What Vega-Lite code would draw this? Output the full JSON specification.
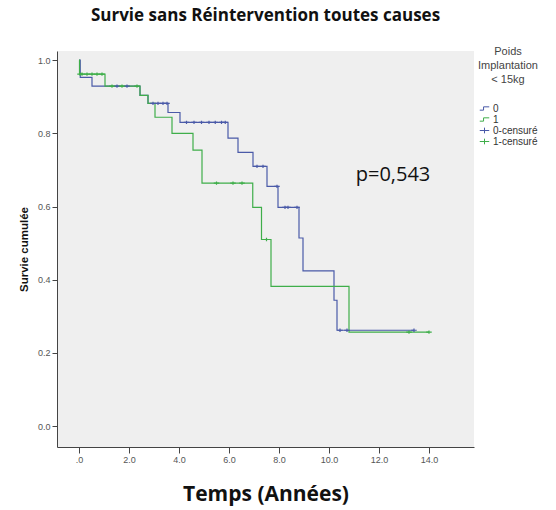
{
  "$schema": "https://vega.github.io/schema/vega-lite/v6.json",
  "width": 417,
  "height": 396,
  "autosize": "none",
  "padding": {"left": 57, "top": 51, "right": 82, "bottom": 63},
  "background": "white",
  "title": {
    "text": "Survie sans Réintervention toutes causes",
    "font": "Open Sans",
    "fontSize": 17,
    "fontWeight": "bold",
    "color": "#111",
    "anchor": "middle",
    "offset": 21
  },
  "config": {
    "view": {"fill": "#efefef", "stroke": null},
    "axis": {
      "domainColor": "#444",
      "tickColor": "#444",
      "labelFont": "Arial",
      "labelFontSize": 9,
      "labelColor": "#555",
      "grid": false,
      "titleFont": "Arial",
      "titleColor": "#111"
    },
    "legend": {
      "orient": "none",
      "legendX": 421,
      "legendY": -5,
      "titleFont": "Arial",
      "titleFontSize": 11,
      "titleFontWeight": "normal",
      "titleColor": "#444",
      "titleAnchor": "middle",
      "titleAlign": "center",
      "titleLineHeight": 14,
      "titlePadding": 18,
      "labelFont": "Arial",
      "labelFontSize": 10,
      "labelColor": "#333",
      "symbolSize": 90,
      "symbolStrokeWidth": 1,
      "rowPadding": -1,
      "labelOffset": 3
    }
  },
  "datasets": {
    "curves": [
      {"t": 0, "S": 1.0, "lg": "0"},
      {"t": 0.05, "S": 0.953, "lg": "0"},
      {"t": 0.52, "S": 0.929, "lg": "0"},
      {"t": 2.44, "S": 0.904, "lg": "0"},
      {"t": 2.76, "S": 0.882, "lg": "0"},
      {"t": 3.56, "S": 0.857, "lg": "0"},
      {"t": 4.04, "S": 0.83, "lg": "0"},
      {"t": 5.96, "S": 0.787, "lg": "0"},
      {"t": 6.36, "S": 0.748, "lg": "0"},
      {"t": 6.96, "S": 0.71, "lg": "0"},
      {"t": 7.52, "S": 0.655, "lg": "0"},
      {"t": 7.96, "S": 0.598, "lg": "0"},
      {"t": 8.8, "S": 0.514, "lg": "0"},
      {"t": 8.96, "S": 0.424, "lg": "0"},
      {"t": 10.2, "S": 0.344, "lg": "0"},
      {"t": 10.32, "S": 0.262, "lg": "0"},
      {"t": 13.4, "S": 0.262, "lg": "0"},
      {"t": 0, "S": 1.0, "lg": "1"},
      {"t": 0.02, "S": 0.962, "lg": "1"},
      {"t": 1.04, "S": 0.929, "lg": "1"},
      {"t": 2.44, "S": 0.904, "lg": "1"},
      {"t": 2.76, "S": 0.882, "lg": "1"},
      {"t": 3.04, "S": 0.844, "lg": "1"},
      {"t": 3.72, "S": 0.8, "lg": "1"},
      {"t": 4.56, "S": 0.754, "lg": "1"},
      {"t": 4.92, "S": 0.664, "lg": "1"},
      {"t": 6.95, "S": 0.598, "lg": "1"},
      {"t": 7.3, "S": 0.51, "lg": "1"},
      {"t": 7.68, "S": 0.382, "lg": "1"},
      {"t": 10.8, "S": 0.257, "lg": "1"},
      {"t": 14.0, "S": 0.257, "lg": "1"}
    ],
    "censors": [
      {"t": 1.52, "S": 0.929, "lg": "0-censuré"},
      {"t": 1.92, "S": 0.929, "lg": "0-censuré"},
      {"t": 2.96, "S": 0.882, "lg": "0-censuré"},
      {"t": 3.16, "S": 0.882, "lg": "0-censuré"},
      {"t": 3.36, "S": 0.882, "lg": "0-censuré"},
      {"t": 3.52, "S": 0.882, "lg": "0-censuré"},
      {"t": 4.3, "S": 0.83, "lg": "0-censuré"},
      {"t": 4.6, "S": 0.83, "lg": "0-censuré"},
      {"t": 4.9, "S": 0.83, "lg": "0-censuré"},
      {"t": 5.2, "S": 0.83, "lg": "0-censuré"},
      {"t": 5.45, "S": 0.83, "lg": "0-censuré"},
      {"t": 5.7, "S": 0.83, "lg": "0-censuré"},
      {"t": 5.85, "S": 0.83, "lg": "0-censuré"},
      {"t": 7.12, "S": 0.71, "lg": "0-censuré"},
      {"t": 7.36, "S": 0.71, "lg": "0-censuré"},
      {"t": 7.92, "S": 0.655, "lg": "0-censuré"},
      {"t": 8.24, "S": 0.598, "lg": "0-censuré"},
      {"t": 8.36, "S": 0.598, "lg": "0-censuré"},
      {"t": 8.72, "S": 0.598, "lg": "0-censuré"},
      {"t": 10.44, "S": 0.262, "lg": "0-censuré"},
      {"t": 10.72, "S": 0.262, "lg": "0-censuré"},
      {"t": 13.4, "S": 0.262, "lg": "0-censuré"},
      {"t": 0.04, "S": 0.962, "lg": "1-censuré"},
      {"t": 0.12, "S": 0.962, "lg": "1-censuré"},
      {"t": 0.32, "S": 0.962, "lg": "1-censuré"},
      {"t": 0.52, "S": 0.962, "lg": "1-censuré"},
      {"t": 0.72, "S": 0.962, "lg": "1-censuré"},
      {"t": 0.92, "S": 0.962, "lg": "1-censuré"},
      {"t": 1.32, "S": 0.929, "lg": "1-censuré"},
      {"t": 1.72, "S": 0.929, "lg": "1-censuré"},
      {"t": 2.32, "S": 0.929, "lg": "1-censuré"},
      {"t": 5.5, "S": 0.664, "lg": "1-censuré"},
      {"t": 6.16, "S": 0.664, "lg": "1-censuré"},
      {"t": 6.52, "S": 0.664, "lg": "1-censuré"},
      {"t": 7.5, "S": 0.51, "lg": "1-censuré"},
      {"t": 13.2, "S": 0.257, "lg": "1-censuré"},
      {"t": 14.0, "S": 0.257, "lg": "1-censuré"}
    ],
    "note": [{"t": 12.56, "S": 0.686, "label": "p=0,543"}]
  },
  "layer": [
    {
      "data": {"name": "curves"},
      "mark": {"type": "line", "interpolate": "step-after", "strokeWidth": 1.2},
      "encoding": {
        "x": {
          "field": "t", "type": "quantitative",
          "scale": {"domain": [-0.88, 15.8], "nice": false, "zero": false},
          "axis": {
            "values": [0, 2, 4, 6, 8, 10, 12, 14],
            "labelExpr": "datum.value == 0 ? '.0' : format(datum.value, '.1f')",
            "tickSize": 6,
            "title": "Temps (Années)",
            "titleFont": "Open Sans",
            "titleFontSize": 21,
            "titleFontWeight": "bold",
            "titlePadding": 19
          }
        },
        "y": {
          "field": "S", "type": "quantitative",
          "scale": {"domain": [-0.057, 1.025], "nice": false, "zero": false},
          "axis": {
            "values": [0, 0.2, 0.4, 0.6, 0.8, 1.0],
            "format": ".1f",
            "tickSize": 5,
            "title": "Survie cumulée",
            "titleFontSize": 11.5,
            "titleFontWeight": "bold",
            "titlePadding": 8
          }
        },
        "color": {
          "field": "lg", "type": "nominal",
          "scale": {
            "domain": ["0", "1", "0-censuré", "1-censuré"],
            "range": ["#4a5aa8", "#3fae4a", "#4a5aa8", "#3fae4a"]
          },
          "title": ["Poids", "Implantation", "< 15kg"]
        },
        "detail": {"field": "lg"}
      }
    },
    {
      "data": {"name": "censors"},
      "mark": {"type": "point", "filled": false, "size": 30, "strokeWidth": 1.2, "opacity": 1},
      "encoding": {
        "x": {"field": "t", "type": "quantitative"},
        "y": {"field": "S", "type": "quantitative"},
        "color": {"field": "lg", "type": "nominal", "title": ["Poids", "Implantation", "< 15kg"]},
        "shape": {
          "field": "lg", "type": "nominal",
          "title": ["Poids", "Implantation", "< 15kg"],
          "scale": {
            "domain": ["0", "1", "0-censuré", "1-censuré"],
            "range": ["M-1,0.35H-0.2V-0.35H1", "M-1,0.35H-0.2V-0.35H1", "M-1,0H1M0,-0.6V0.6", "M-1,0H1M0,-0.6V0.6"]
          }
        }
      }
    },
    {
      "data": {"name": "note"},
      "mark": {"type": "text", "font": "Open Sans", "fontSize": 20, "color": "#111"},
      "encoding": {
        "x": {"field": "t", "type": "quantitative"},
        "y": {"field": "S", "type": "quantitative"},
        "text": {"field": "label"}
      }
    }
  ]
}
